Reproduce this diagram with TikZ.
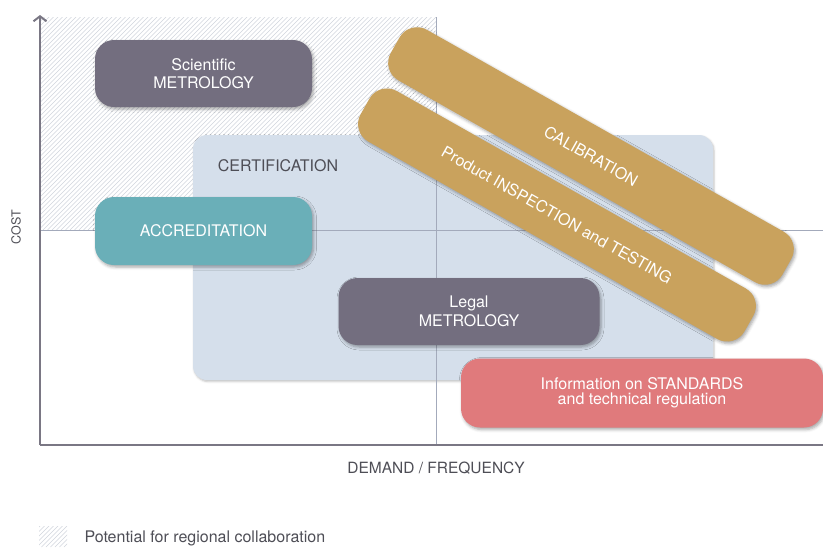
\documentclass[tikz,border=0pt]{standalone}
\usepackage{fontspec}
\setmainfont{TeX Gyre Heros}
\usetikzlibrary{arrows.meta,shadows.blur}
\definecolor{metro}{HTML}{736E7F}
\definecolor{teal}{HTML}{6AAFB8}
\definecolor{pinkbox}{HTML}{E07A7C}
\definecolor{gold}{HTML}{C9A25D}
\definecolor{certfill}{HTML}{D5DFEB}
\definecolor{axiscol}{HTML}{7A7784}
\definecolor{gridcol}{HTML}{A3AABB}
\definecolor{hatchcol}{HTML}{D0D4DC}
\definecolor{labeltext}{HTML}{4E4E56}
\tikzset{
  box/.style={rectangle, rounded corners=19pt, text=white, align=center,
    font=\fontsize{16}{18.5}\selectfont,
    blur shadow={shadow xshift=1.5pt, shadow yshift=-2pt, shadow blur radius=3pt, shadow opacity=35}},
  barbox/.style={box, fill=gold, rounded corners=20pt, minimum height=58pt, rotate=-29.5},
  gridline/.style={gridcol, line width=0.8pt},
  axisline/.style={axiscol, line width=2.5pt},
  axislabel/.style={text=labeltext, font=\fontsize{15.5}{18}\selectfont},
  hatchline/.style={hatchcol, line width=0.65pt}
}
\begin{document}
\begin{tikzpicture}[x=1pt,y=-1pt]
\useasboundingbox (0,0) rectangle (823,547);
% hatched region
\begin{scope}
  \clip (40,17) rectangle (436,230);
  \foreach \s in {-200,-195.5,...,440} \draw[hatchline] (\s,230) -- ++(215,-215);
\end{scope}
% certification area
\node[rectangle, fill=certfill, rounded corners=14pt, minimum width=520pt, minimum height=245pt,
  blur shadow={shadow xshift=1pt, shadow yshift=-1.5pt, shadow blur radius=2pt, shadow opacity=25}] (cert) at (453,257.5) {};
\node[text=labeltext, font=\fontsize{16}{18}\selectfont] (certlabel) at (278,166) {CERTIFICATION};
% grid lines
\coordinate (gtop) at (436,17);
\coordinate (gbot) at (436,445);
\coordinate (hleft) at (40,230);
\coordinate (hright) at (823,230);
\draw[gridline] (gtop) -- (gbot);
\draw[gridline] (hleft) -- (hright);
% axes
\coordinate (origin) at (40,445);
\coordinate (ytop) at (40,15);
\coordinate (xend) at (823,445);
\draw[axisline, -{Straight Barb[length=5pt,width=13pt,line width=2pt]}] (origin) -- (ytop);
\draw[axisline] (origin) -- (xend);
\node[axislabel] (xlabel) at (436,468) {DEMAND / FREQUENCY};
\node[text=labeltext, font=\fontsize{12.5}{14}\selectfont, rotate=90] (ylabel) at (16,227) {COST};
% boxes
\node[box, fill=metro, minimum width=217pt, minimum height=67pt] (sci) at (203.5,73.5) {Scientific\\METROLOGY};
\node[box, fill=teal, minimum width=217pt, minimum height=68pt] (acc) at (203.5,231) {ACCREDITATION};
\node[box, fill=metro, minimum width=261pt, minimum height=67pt] (legal) at (469,311.5) {Legal\\METROLOGY};
\node[box, fill=pinkbox, minimum width=362pt, minimum height=69pt, font=\fontsize{16}{15.5}\selectfont] (info) at (642,393) {Information on STANDARDS\\and technical regulation};
% diagonal bars
\node[barbox, minimum width=450pt] (cal) at (591,156) {CALIBRATION};
\node[barbox, minimum width=441pt] (prod) at (557,215) {Product INSPECTION and TESTING};
% legend
\begin{scope}
  \clip (39,526) rectangle (67,547);
  \foreach \s in {10,14.5,...,70} \draw[hatchline] (\s,547) -- ++(25,-25);
\end{scope}
\node[anchor=west, text=labeltext, font=\fontsize{16}{18}\selectfont] (legend) at (81,538) {Potential for regional collaboration};
\end{tikzpicture}
\end{document}
